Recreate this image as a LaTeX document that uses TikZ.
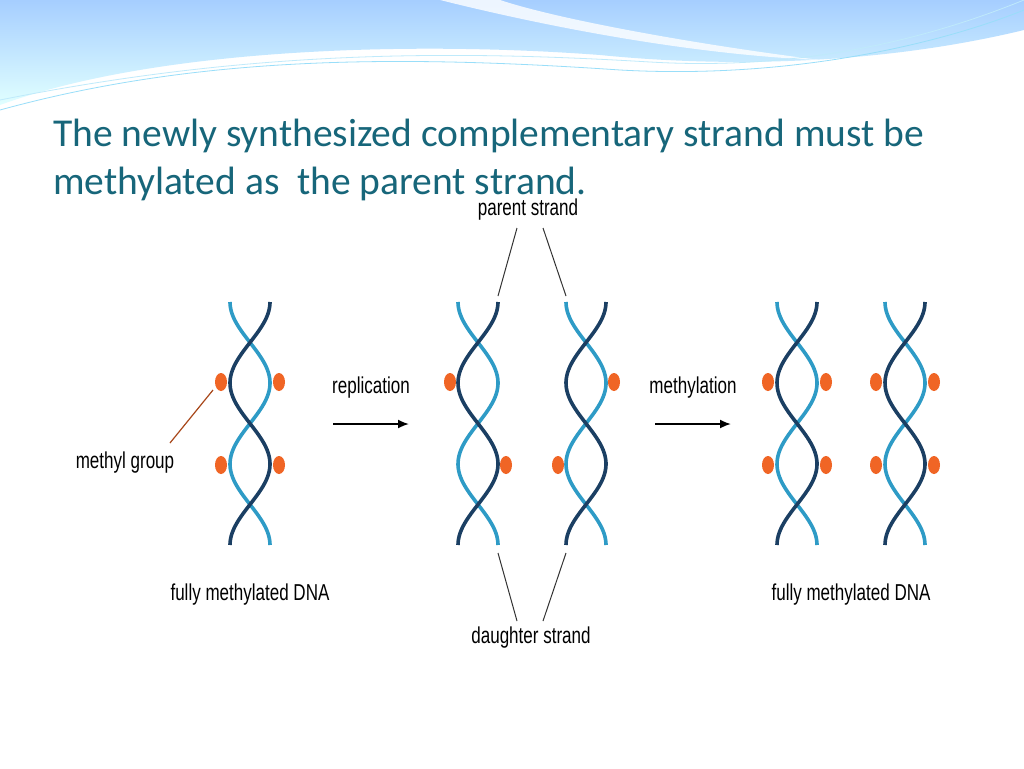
\documentclass[tikz,border=0pt]{standalone}
\usepackage{fontspec}
\setmainfont{Liberation Sans}
\newfontfamily\titlefont{Carlito}
\usetikzlibrary{arrows.meta}
\definecolor{strandlight}{HTML}{2E9BC6}
\definecolor{stranddark}{HTML}{1B3F63}
\definecolor{methyl}{HTML}{F06525}
\definecolor{titleteal}{HTML}{17667A}
\tikzset{
  lbl/.style={font=\fontsize{23}{26}\selectfont, xscale=0.74, inner sep=0pt},
  dot/.style={fill=methyl, draw=none},
  strand/.style={line width=3.6pt, line cap=butt},
  pointer/.style={draw=black!80, line width=1pt}
}
% one double helix around x = #1
\newcommand{\helix}[1]{%
  \draw[strand, strandlight] plot[domain=0:243, samples=80, smooth]
    ({#1-20*cos(\x/81*180)}, {302+\x});
  \draw[strand, stranddark] plot[domain=0:243, samples=80, smooth]
    ({#1+20*cos(\x/81*180)}, {302+\x});
}
\begin{document}
\begin{tikzpicture}[x=1pt,y=-1pt]
    \useasboundingbox[fill=white] (0,0) rectangle (1024,768);

    % banner
    \shade[top color=cyan!45!blue!35, bottom color=cyan!12] (0,0) -- (1024,0) -- (1024,30)
      .. controls (900,60) and (750,70) .. (600,55) .. controls (400,40) and (150,50) .. (0,105) -- cycle;
    \fill[white, opacity=0.8] (440,0) .. controls (560,30) and (700,55) .. (820,60)
      .. controls (700,45) and (560,20) .. (500,0) -- cycle;
    \draw[cyan!40, line width=0.8pt] (0,110) .. controls (200,55) and (400,55) .. (620,70)
      .. controls (800,80) and (950,40) .. (1024,10);
    \draw[cyan!25, line width=0.8pt] (0,100) .. controls (250,50) and (450,50) .. (650,62)
      .. controls (820,72) and (950,30) .. (1024,0);

    % title
    \node[anchor=west, text=titleteal, font=\titlefont\fontsize{39.5}{46}\selectfont, inner sep=0pt]
      (title1) at (53,136) {The newly synthesized complementary strand must be};
    \node[anchor=west, text=titleteal, font=\titlefont\fontsize{39.5}{46}\selectfont, inner sep=0pt]
      (title2) at (53,184) {methylated as\ \ the parent strand.};

    % helices
    \helix{250}
    \helix{478}
    \helix{586}
    \helix{797}
    \helix{905}

    % methyl groups
    \fill[dot] (221,382) ellipse (6 and 9);
    \fill[dot] (279,382) ellipse (6 and 9);
    \fill[dot] (221,465) ellipse (6 and 9);
    \fill[dot] (279,465) ellipse (6 and 9);
    \fill[dot] (450,382) ellipse (6 and 9);
    \fill[dot] (506,465) ellipse (6 and 9);
    \fill[dot] (614,382) ellipse (6 and 9);
    \fill[dot] (558,465) ellipse (6 and 9);
    \fill[dot] (768,382) ellipse (6 and 9);
    \fill[dot] (826,382) ellipse (6 and 9);
    \fill[dot] (768,465) ellipse (6 and 9);
    \fill[dot] (826,465) ellipse (6 and 9);
    \fill[dot] (876,382) ellipse (6 and 9);
    \fill[dot] (934,382) ellipse (6 and 9);
    \fill[dot] (876,465) ellipse (6 and 9);
    \fill[dot] (934,465) ellipse (6 and 9);

    % labels
    \node[lbl] (parent) at (528,210) {parent strand};
    \node[lbl] (daughter) at (531,638) {daughter strand};
    \node[lbl] (repl) at (371,388) {replication};
    \node[lbl] (meth) at (693,388) {methylation};
    \node[lbl] (mgroup) at (125,463) {methyl group};
    \node[lbl] (fullL) at (250,595) {fully methylated DNA};
    \node[lbl] (fullR) at (851,595) {fully methylated DNA};

    \coordinate (p1) at (498,296);
    \coordinate (p2) at (566,296);
    \coordinate (d1) at (498,553);
    \coordinate (d2) at (566,553);
    \coordinate (mg) at (213,390);
    \draw[pointer] (517,228) -- (p1);
    \draw[pointer] (543,228) -- (p2);
    \draw[pointer] (517,621) -- (d1);
    \draw[pointer] (543,621) -- (d2);
    \draw[draw=methyl!70!black, line width=1.2pt] (170,443) -- (mg);

    % arrows
    \draw[line width=1.8pt, -{Latex[length=11pt,width=9pt]}] (333,424) -- (409,424);
    \draw[line width=1.8pt, -{Latex[length=11pt,width=9pt]}] (655,424) -- (731,424);
\end{tikzpicture}
\end{document}
